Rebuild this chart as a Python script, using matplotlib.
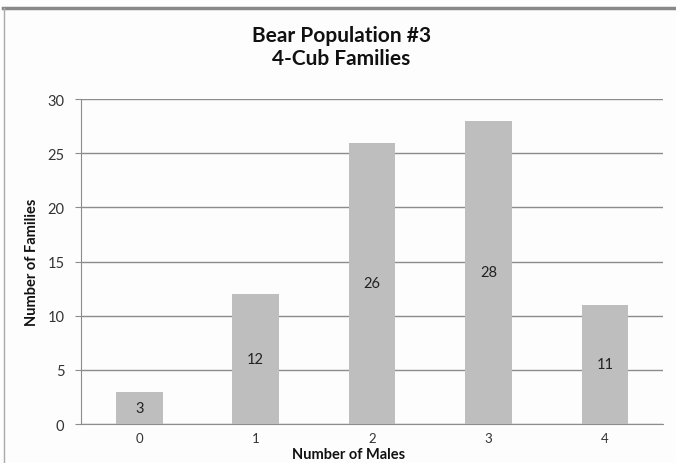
import matplotlib
matplotlib.use("Agg")
import matplotlib.pyplot as plt
from matplotlib.lines import Line2D

# family counts by number of male cubs
males = ["0", "1", "2", "3", "4"]
families = [3, 12, 26, 28, 11]

plt.rcParams['font.family'] = ['Lato', 'DejaVu Sans']

fig = plt.figure(figsize=(6.76, 4.64), dpi=100)
fig.patch.set_facecolor("#fdfdfd")
ax = fig.add_axes([0.120, 0.084, 0.861, 0.700])
ax.set_facecolor("#fdfdfd")

x = list(range(len(males)))
bars = ax.bar(x, families, width=0.40, color="#bebebe", zorder=3)
for b, v in zip(bars, families):
    ax.text(b.get_x() + b.get_width() / 2, v / 2, str(v),
            ha="center", va="center", fontsize=10.5, color="#222222", zorder=4)

ax.set_xlim(-0.5, len(males) - 0.5)
ax.set_ylim(0, 30)
ax.set_yticks(range(0, 31, 5))
ax.set_xticks(x)
ax.set_xticklabels(males)
ax.yaxis.grid(True, color="#8c8c8c", linewidth=1.0, zorder=1)
for s in ["top", "right"]:
    ax.spines[s].set_visible(False)
ax.spines["left"].set_color("#8c8c8c")
ax.spines["bottom"].set_color("#8c8c8c")
ax.tick_params(axis="y", length=4, color="#8c8c8c", labelsize=10.5, labelcolor="#333333", pad=8)
ax.tick_params(axis="x", length=0, labelsize=9.5, labelcolor="#333333", pad=6)

ax.set_xlabel("Number of Males", fontsize=10.5, fontweight="bold", color="#111111")
ax.xaxis.set_label_coords(0.459, -0.072)
ax.set_ylabel("Number of Families", fontsize=10.5, fontweight="bold", color="#111111")
ax.yaxis.set_label_coords(-0.073, 0.5)

fig.text(0.505, 0.897, "Bear Population #3\n4-Cub Families", ha="center", va="center",
         fontsize=15, fontweight="bold", color="#111111", linespacing=1.2)

# outer chart frame (top and left edges)
fig.add_artist(Line2D([0.005, 1.0], [0.980, 0.980], transform=fig.transFigure,
                      color="#888888", linewidth=2.5))
fig.add_artist(Line2D([0.006, 0.006], [0.0, 0.980], transform=fig.transFigure,
                      color="#aaaaaa", linewidth=1.0))

fig.savefig("out.png", dpi=100, facecolor=fig.get_facecolor())
